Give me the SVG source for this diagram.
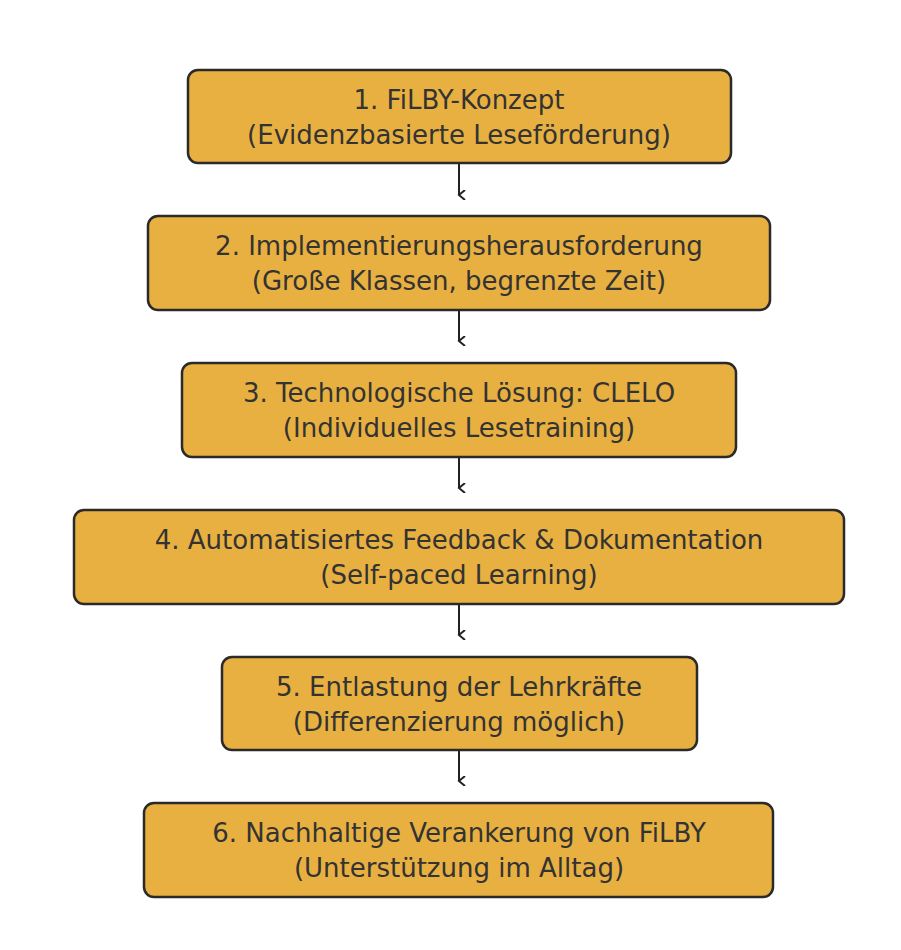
<svg xmlns="http://www.w3.org/2000/svg" width="901" height="950" viewBox="0 0 901 950">
<style>
.b{fill:#e8b040;stroke:#2a2a2a;stroke-width:2.5}
.t{font-family:"DejaVu Sans",sans-serif;font-size:26px;fill:#333;text-anchor:middle}
.c{stroke:#222;stroke-width:2;fill:none}
</style>
<defs><marker id="a" markerWidth="10" markerHeight="10" refX="5" refY="8" orient="auto" markerUnits="userSpaceOnUse"><path d="M0,2 L5,8 L10,2" fill="none" stroke="#222" stroke-width="2"/></marker></defs>
<rect width="901" height="950" fill="#fff"/>
<g id="connectors">
<path class="c" d="M459,150V195" marker-end="url(#a)"/>
<path class="c" d="M459,297V341" marker-end="url(#a)"/>
<path class="c" d="M459,444V488" marker-end="url(#a)"/>
<path class="c" d="M459,591V635" marker-end="url(#a)"/>
<path class="c" d="M459,737V781" marker-end="url(#a)"/>
</g>
<g id="n1"><rect class="b" x="188" y="70" width="543" height="93" rx="10"/><text class="t" x="459" y="109">1. FiLBY-Konzept</text><text class="t" x="459" y="144">(Evidenzbasierte Leseförderung)</text></g>
<g id="n2"><rect class="b" x="148" y="216" width="622" height="94" rx="10"/><text class="t" x="459" y="255">2. Implementierungsherausforderung</text><text class="t" x="459" y="290">(Große Klassen, begrenzte Zeit)</text></g>
<g id="n3"><rect class="b" x="182" y="363" width="554" height="94" rx="10"/><text class="t" x="459" y="402">3. Technologische Lösung: CLELO</text><text class="t" x="459" y="437">(Individuelles Lesetraining)</text></g>
<g id="n4"><rect class="b" x="74" y="510" width="770" height="94" rx="10"/><text class="t" x="459" y="549">4. Automatisiertes Feedback &amp; Dokumentation</text><text class="t" x="459" y="584">(Self-paced Learning)</text></g>
<g id="n5"><rect class="b" x="222" y="657" width="475" height="93" rx="10"/><text class="t" x="459" y="696">5. Entlastung der Lehrkräfte</text><text class="t" x="459" y="731">(Differenzierung möglich)</text></g>
<g id="n6"><rect class="b" x="144" y="803" width="629" height="94" rx="10"/><text class="t" x="459" y="842">6. Nachhaltige Verankerung von FiLBY</text><text class="t" x="459" y="877">(Unterstützung im Alltag)</text></g>
</svg>
